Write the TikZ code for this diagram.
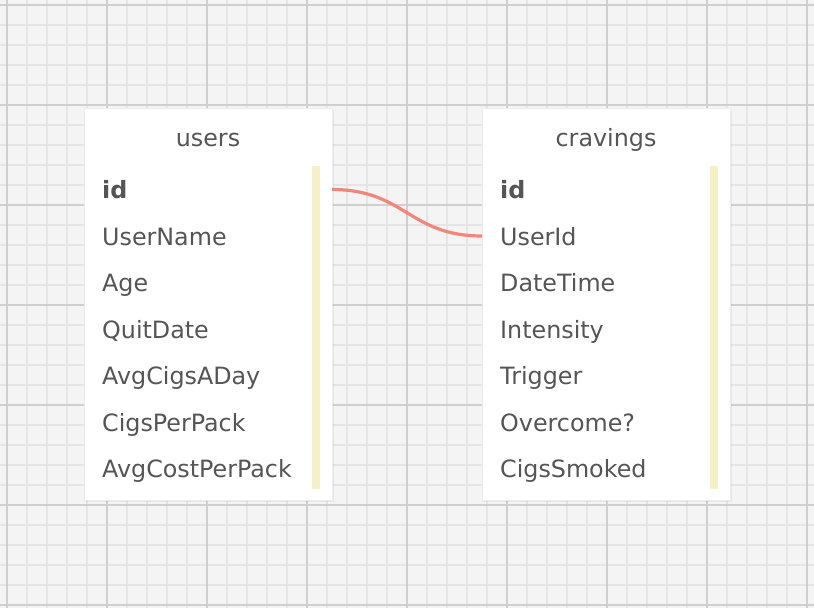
\documentclass[tikz,border=0pt]{standalone}
\usepackage{fontspec}
\setmainfont{DejaVu Sans}
\definecolor{bgc}{HTML}{F4F4F4}
\definecolor{minorc}{HTML}{E5E5E5}
\definecolor{majorc}{HTML}{D0D0D0}
\definecolor{txtc}{HTML}{555555}
\definecolor{barc}{HTML}{F4F1C9}
\definecolor{linkc}{HTML}{F0877B}
\tikzset{
  tbox/.style={fill=white, draw=black!7, line width=0.8pt},
  keybar/.style={fill=barc, draw=none},
  ttitle/.style={anchor=base, text=txtc, inner sep=0pt, font=\fontsize{23.8}{28}\selectfont},
  field/.style={anchor=base west, text=txtc, inner sep=0pt, font=\fontsize{23.8}{28}\selectfont},
  keyfield/.style={field, font=\fontsize{23.8}{28}\selectfont\bfseries},
  link/.style={draw=linkc, line width=3.2pt}
}
\begin{document}
\begin{tikzpicture}[x=1pt,y=-1pt]
\useasboundingbox (0,0) rectangle (814,608);
\fill[bgc] (0,0) rectangle (814,608);
% minor grid
\foreach \x in {7,27,...,807} \draw[minorc, line width=1.5pt] (\x,0) -- (\x,608);
\foreach \y in {5,25,...,605} \draw[minorc, line width=1.5pt] (0,\y) -- (814,\y);
% major grid
\foreach \x in {7,107,...,807} \draw[majorc, line width=1.5pt] (\x,0) -- (\x,608);
\foreach \y in {5,105,...,605} \draw[majorc, line width=1.5pt] (0,\y) -- (814,\y);

% shadows
\fill[black, opacity=0.05] (85,110) rectangle (334,502);
\fill[black, opacity=0.05] (483,110) rectangle (732,502);

% users table
\path[tbox] (84,108) rectangle (332,500);
\fill[keybar] (312,166) rectangle (320,489);
\node[ttitle] (ut) at (208,146) {users};
\node[keyfield] (uid) at (102,198) {id};
\node[field] (uname) at (102,245) {UserName};
\node[field] (uage) at (102,291.5) {Age};
\node[field] (uquit) at (102,338) {QuitDate};
\node[field] (uavg) at (102,384.5) {AvgCigsADay};
\node[field] (ucpp) at (102,431) {CigsPerPack};
\node[field] (uacpp) at (102,477.5) {AvgCostPerPack};

% cravings table
\path[tbox] (482,108) rectangle (730,500);
\fill[keybar] (710,166) rectangle (718,489);
\node[ttitle] (ct) at (606,146) {cravings};
\node[keyfield] (cid) at (500,198) {id};
\node[field] (cuid) at (500,245) {UserId};
\node[field] (cdt) at (500,291.5) {DateTime};
\node[field] (cint) at (500,338) {Intensity};
\node[field] (ctrig) at (500,384.5) {Trigger};
\node[field] (cover) at (500,431) {Overcome?};
\node[field] (csm) at (500,477.5) {CigsSmoked};

% relation
\coordinate (ls) at (332,189.5);
\coordinate (le) at (482,236);
\draw[link] (ls) .. controls (405,189.5) and (409,236) .. (le);
\end{tikzpicture}
\end{document}
